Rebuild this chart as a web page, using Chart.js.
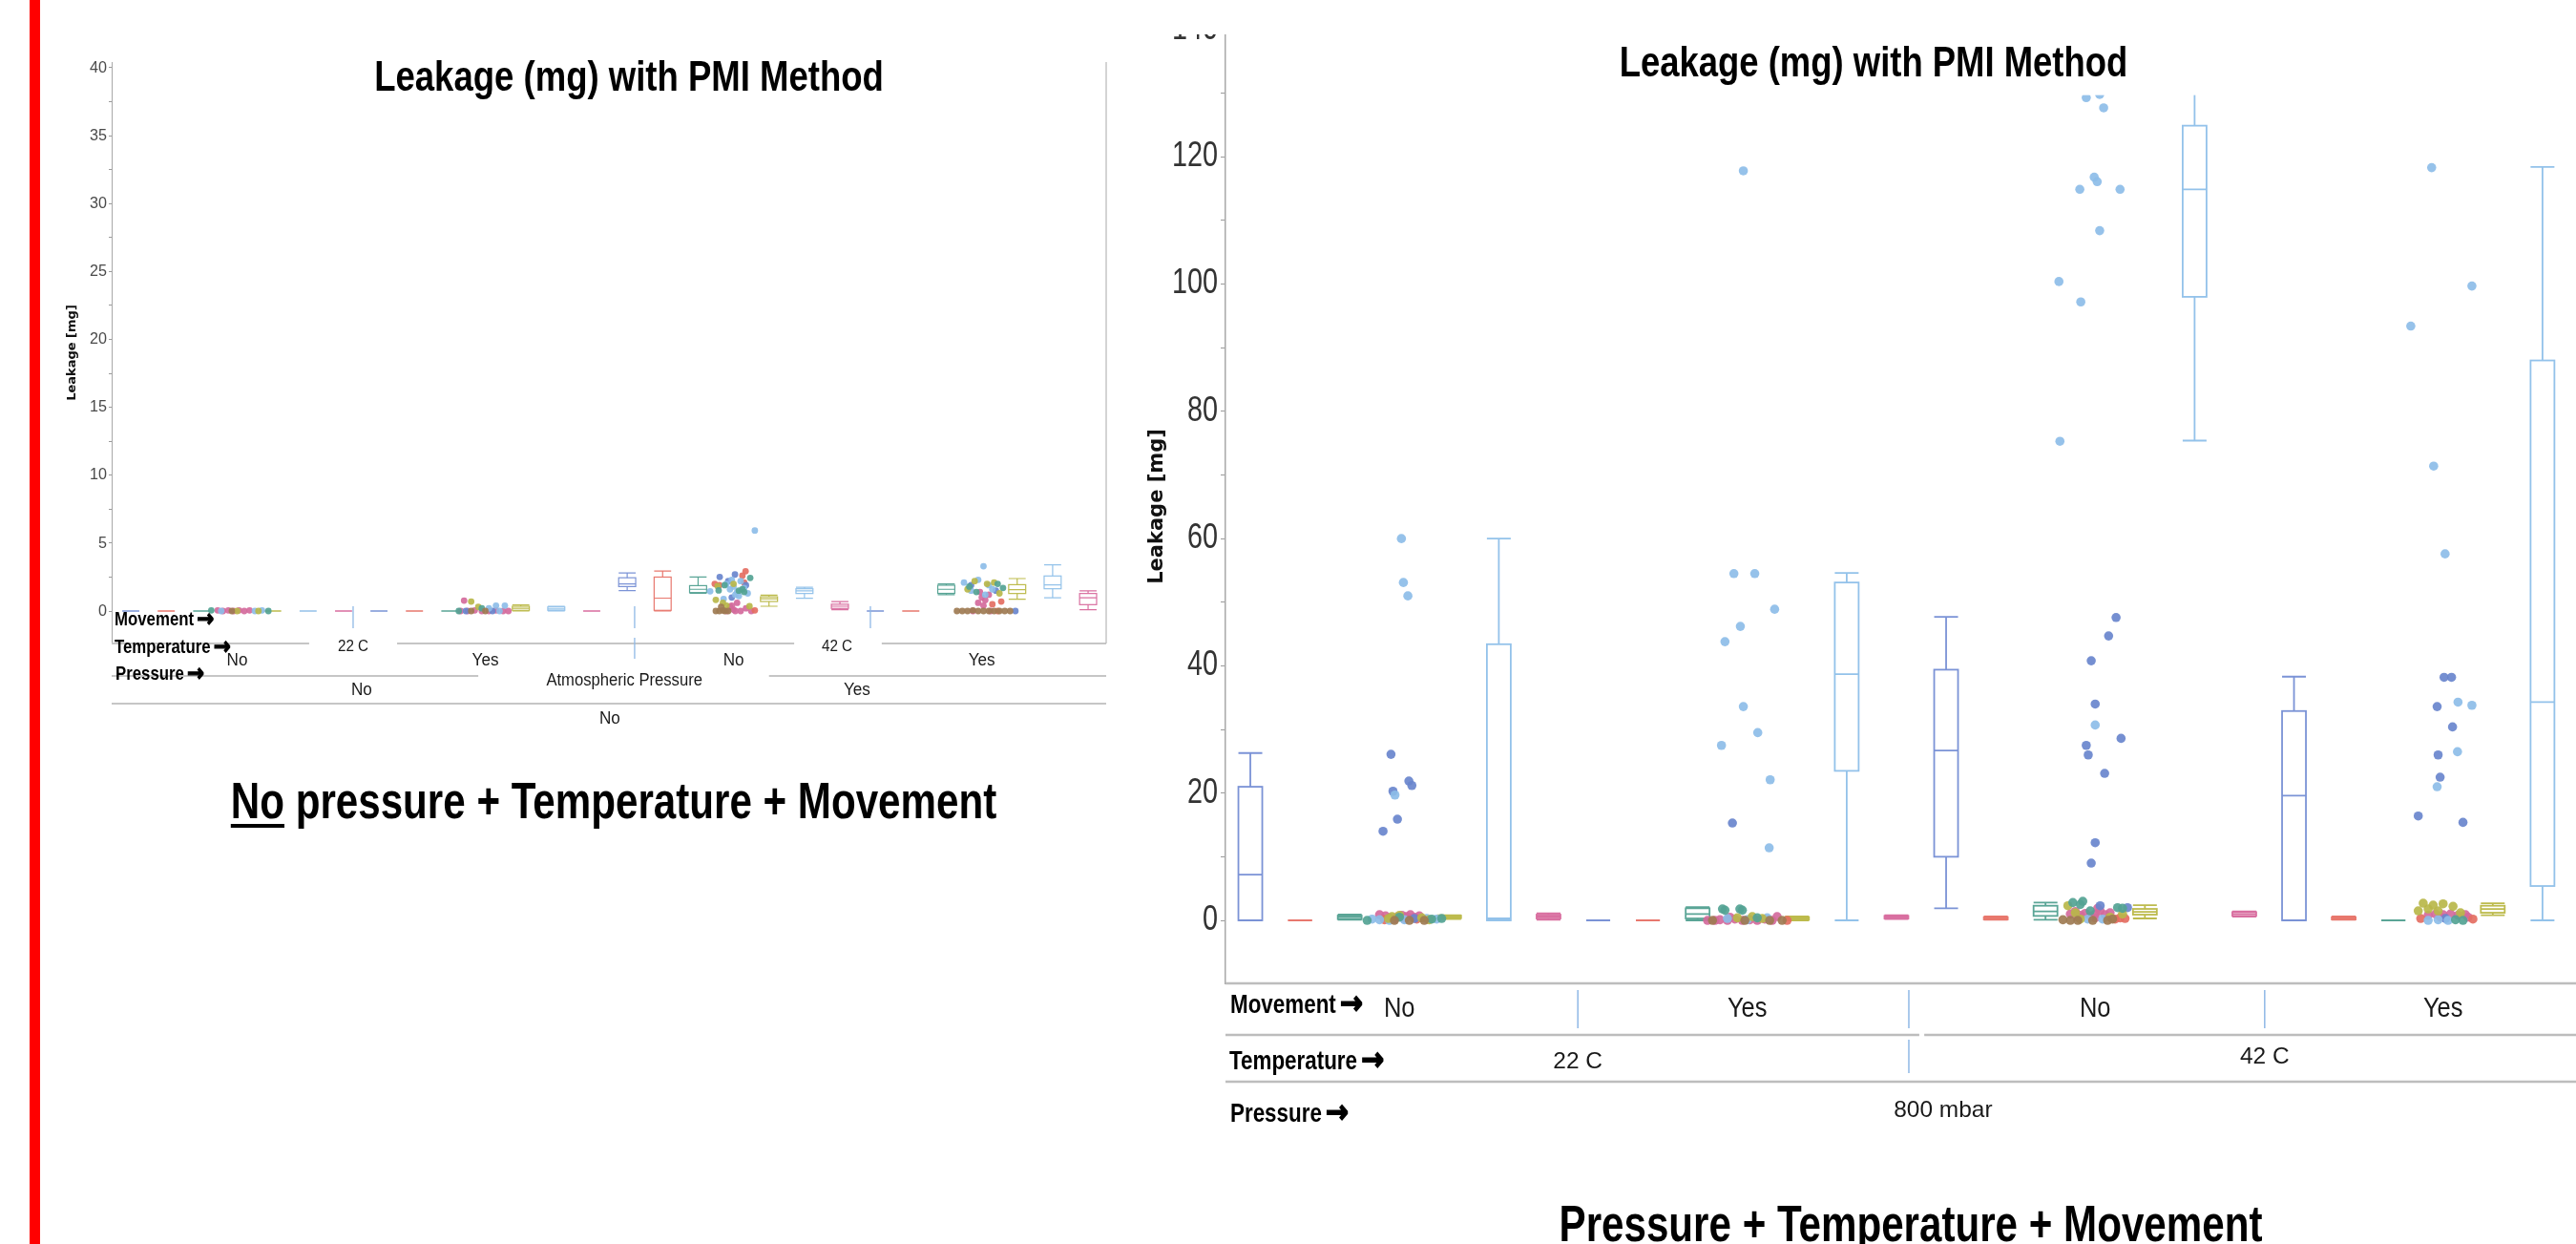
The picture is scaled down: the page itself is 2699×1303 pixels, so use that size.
<!DOCTYPE html>
<html><head><meta charset="utf-8">
<script src="https://cdn.jsdelivr.net/npm/chart.js@4.4.1/dist/chart.umd.min.js"></script>
<style>
html,body{margin:0;padding:0;width:2699px;height:1303px;overflow:hidden;background:#fff;}
body{position:relative;}
#redbar{position:absolute;left:31px;top:0;width:11px;height:1303px;background:#ff0000;}
#leftCanvas{position:absolute;left:50px;top:0;}
#rightClip{position:absolute;left:1150px;top:36px;width:1549px;height:1267px;overflow:hidden;}
#rightCanvas{position:absolute;left:0;top:-66px;}
.caption{position:absolute;font-family:'Liberation Sans',Arial,sans-serif;font-weight:bold;font-size:53px;line-height:53px;color:#000;text-align:center;white-space:nowrap;transform:scaleX(0.795);transform-origin:50% 50%;}
.caption u{text-decoration-thickness:4px;text-underline-offset:6px;}
</style></head>
<body>
<div id="redbar"></div>
<canvas id="leftCanvas" width="1160" height="780"></canvas>
<div id="rightClip"><canvas id="rightCanvas" width="1600" height="1333"></canvas></div>
<div class="caption" style="left:0;width:1286px;top:812px;"><u>No</u> pressure + Temperature + Movement</div>
<div class="caption" style="left:1302px;width:1400px;top:1255px;">Pressure + Temperature + Movement</div>
<script>
// ================= DATA =================
const chartTitle = 'Leakage (mg) with PMI Method';
const yTitle = 'Leakage [mg]';
const movementLevels = ['No', 'Yes', 'No', 'Yes'];
const temperatureLevels = ['22 C', '42 C'];
const leftPressureLevels = ['No', 'Yes'];
const leftPressureHeader = 'Atmospheric Pressure';
const leftOuterLevel = 'No';
const rightPressureLevel = '800 mbar';
const rowHeaders = ['Movement', 'Temperature', 'Pressure'];
const rowArrow = '\u2192';
// colour of each of the 7 slots inside a movement group
const slotColors = ['darkBlue', 'red', 'teal', 'brown', 'olive', 'lightBlue', 'pink'];

const leftYTicks = [0,2.5,5,7.5,10,12.5,15,17.5,20,22.5,25,27.5,30,32.5,35,37.5,40];
const leftYLabels = [0,5,10,15,20,25,30,35,40];
const rightYTicks = [0,10,20,30,40,50,60,70,80,90,100,110,120,130,140];
const rightYLabels = [0,20,40,60,80,100,120,140];

// box stats per slot: [low whisker, Q1, median, Q3, high whisker]
const leftBoxes = [
  [0,0,0,0,0],[0,0,0,0,0],[0,0,0,0,0],null,[0,0,0,0,0],[0,0,0,0,0],[0,0,0,0,0],
  [0,0,0,0,0],[0,0,0,0,0],[0,0,0,0,0],null,[0,0.05,0.2,0.35,0.45],[0,0.05,0.15,0.3,0.35],[0,0,0,0,0],
  [1.5,1.8,2.0,2.45,2.8],[0,0.05,0.95,2.5,2.95],[1.3,1.36,1.6,1.87,2.5],null,[0.35,0.7,0.9,1.05,1.17],[0.94,1.29,1.48,1.64,1.75],[0.1,0.19,0.35,0.5,0.7],
  [0,0,0,0,0],[0,0,0,0,0],[1.2,1.3,1.6,1.9,2.0],null,[0.87,1.29,1.57,1.94,2.39],[0.98,1.64,1.92,2.58,3.4],[0.1,0.47,0.98,1.29,1.48]
];
const rightBoxes = [
  [0,0,7.2,21,26.3],[0,0,0,0,0],[0.1,0.2,0.5,0.75,0.9],null,[0.2,0.35,0.5,0.75,0.8],[0,0,0.3,43.4,60],[0.1,0.3,0.6,0.9,1.1],
  [0,0,0,0,0],[0,0,0,0,0],[0,0.3,1.0,1.9,2.1],null,[0,0.1,0.3,0.5,0.6],[0,23.5,38.7,53.1,54.6],[0.2,0.3,0.5,0.7,0.8],
  [1.9,10,26.7,39.4,47.7],[0.1,0.15,0.3,0.5,0.6],[0.1,0.7,1.4,2.3,2.8],null,[0.3,0.9,1.35,1.8,2.4],[75.4,98,114.9,124.9,135],[0.6,0.7,1.0,1.3,1.4],
  [0,0,19.6,32.9,38.3],[0.1,0.15,0.3,0.5,0.6],[0,0,0,0,0],null,[0.8,1.2,1.8,2.3,2.7],[0,5.4,34.3,88,118.4],[0.2,0.4,0.6,0.9,1.1]
];

// jittered points [slot position, leakage]
const leftBrown = [[2.85,0],[9.6,0],[10.0,0],[16.5,0],[16.6,0],[16.7,0.05],[16.75,0],[16.85,0],[16.65,0.3],
  [23.3,0],[23.45,0],[23.6,0],[23.75,0.05],[23.9,0],[24.05,0],[24.2,0],[24.35,0],[24.5,0],[24.65,0],[24.8,0]];
const leftTeal = [[2.27,0.05],[3.88,0],[9.25,0],[9.9,0.2],[17.47,2.44],[16.58,1.52],[17.15,1.5],[17.3,1.4],[16.75,1.9],[17.25,1.6],
  [24.45,2.0],[23.65,1.8],[24.6,1.7],[23.85,1.4]];
const leftOlive = [[3.0,0],[3.6,0],[9.6,0.7],[9.8,0.3],[16.55,1.83],[16.5,0.82],[17.45,0.35],[17.0,2.0],[16.8,0.4],[16.7,0.6],
  [23.8,2.2],[24.15,2.0],[24.35,2.1],[23.6,1.6],[24.5,1.3]];
const leftLightBlue = [[2.55,0],[3.5,0],[3.7,0.05],[10.3,0.4],[10.55,0.4],[10.1,0.2],[10.4,0],
  [17.6,5.93],[16.34,1.45],[16.72,0.89],[16.8,2.0],[16.9,1.6],[17.0,1.8],[17.1,1.4],[17.2,2.2],[17.3,1.7],[17.4,1.3],[16.95,2.3],[17.15,1.1],[17.05,1.2],
  [24.05,3.3],[23.5,2.1],[24.3,1.6],[24.1,1.2],[23.9,2.3],[24.2,1.9],[23.7,1.5]];
const leftDarkBlue = [[9.45,0],[10.2,0],[16.61,2.51],[17.04,2.69],[16.85,2.2],[17.35,1.9],[16.95,1.0],[23.7,1.9],[24.4,1.5],[24.95,0]];
const leftRed = [[17.34,2.93],[16.47,2.0],[17.3,2.1],[16.6,1.9],[17.6,0.05],[17.25,2.6],[24.55,0.7],[24.3,0.5],[24.45,0]];
const leftPink = [[2.45,0.05],[2.6,0],[2.75,0.05],[2.9,0],[3.05,0.05],[3.2,0],[3.35,0.05],
  [9.4,0.77],[9.3,0],[9.5,0],[9.7,0.05],[9.9,0],[10.1,0],[10.3,0.05],[10.5,0],[10.65,0],
  [16.9,0.3],[17.0,0.1],[17.1,0.6],[17.2,0],[16.8,0],[17.05,0],[17.5,0],[17.35,0.2],[16.95,0.4],
  [23.95,1.4],[24.0,1.0],[24.1,0.8],[24.2,1.2],[23.9,0.6],[24.05,0.4],[24.25,0],[23.75,0]];

const rightBrown = [[2.9,0],[3.2,0],[3.5,0],[9.3,0],[9.95,0],[10.45,0],[10.7,0],
  [16.35,0.1],[16.5,0],[16.65,0],[16.95,0],[17.25,0],[17.35,0.2]];
const rightTeal = [[2.35,0],[3.0,0.5],[3.65,0.2],[3.85,0.3],[9.5,1.8],[9.55,1.6],[9.85,1.8],[9.9,1.6],[10.2,0.4],
  [16.55,2.8],[16.75,3.0],[16.7,2.5],[17.45,2.0],[17.55,1.9],[16.9,1.5],[24.25,0.1],[24.4,0]];
const rightOlive = [[2.78,0.3],[3.0,0.8],[3.45,0.4],[3.6,0.1],[2.85,0.6],[9.8,0.4],[10.1,0.6],[10.3,0.3],
  [16.45,2.3],[16.6,1.2],[17.55,1.0],[17.3,0.5],[16.7,0.2],
  [23.6,2.7],[23.8,2.4],[24.0,2.6],[24.2,2.2],[23.5,1.5],[23.9,1.5],[24.35,1.2],[23.7,1.8]];
const rightLightBlue = [[3.04,60],[3.08,53.1],[3.17,51.0],[2.91,19.7],[2.45,0.2],[2.6,0.1],[3.1,0.1],[3.55,0.3],[3.75,0.2],[2.8,0],
  [9.92,117.8],[9.73,54.5],[10.15,54.5],[10.55,48.9],[9.86,46.2],[9.55,43.8],[9.92,33.6],[9.48,27.5],[10.21,29.5],[10.46,22.1],[10.44,11.4],[9.6,0.3],[10.0,0.1],[10.4,0.4],
  [16.82,129.3],[17.09,129.8],[17.17,127.7],[16.69,114.9],[16.98,116.8],[17.04,116.1],[17.5,114.9],[17.09,108.4],[16.27,100.4],[16.71,97.2],[16.29,75.3],[17.0,30.7],[16.85,0.2],[17.15,0.2],
  [23.77,118.3],[24.58,99.7],[23.35,93.4],[23.81,71.4],[24.04,57.6],[24.3,34.3],[24.58,33.8],[24.29,26.5],[23.88,21.0],[23.7,0],[23.9,0.1],[24.1,0]];
const rightDarkBlue = [[2.67,14.0],[2.83,26.1],[2.87,20.3],[2.96,15.9],[3.19,21.9],[3.25,21.2],[3.3,0.3],
  [9.7,15.3],
  [17.42,47.6],[17.27,44.7],[16.92,40.8],[17.0,34.0],[16.82,27.5],[16.86,26.0],[17.52,28.6],[17.19,23.1],[17.0,12.2],[16.92,9.0],[17.1,2.3],[17.65,2.0],
  [24.02,38.2],[24.17,38.2],[23.88,33.6],[24.19,30.4],[23.9,26.0],[23.94,22.5],[23.5,16.4],[24.4,15.4],[24.05,0.3]];
const rightRed = [[2.7,0.1],[3.35,0.2],[10.8,0],[17.4,0.2],[17.5,0.4],[17.6,0.3],[24.6,0.2],[23.55,0.3]];
const rightPink = [[2.6,0.9],[2.72,0.7],[2.8,0.4],[2.95,0.5],[3.05,0.8],[3.15,0.6],[3.22,0.9],[3.3,0.5],[3.4,0.7],[2.9,0.2],[3.1,0.3],
  [9.2,0],[9.35,0],[9.45,0.1],[9.6,0],[9.75,0.2],[9.9,0],[10.05,0.1],[10.2,0],[10.35,0.2],[10.5,0],[10.6,0.6],[9.65,0.5],
  [16.5,1.0],[16.6,1.4],[16.7,0.8],[16.8,1.1],[16.9,0.7],[17.0,1.0],[17.05,1.9],[17.1,1.5],[17.2,0.9],[17.3,1.2],[16.65,0.5],[17.0,0.4],
  [23.7,0.8],[23.85,1.0],[24.0,0.9],[24.15,1.0],[24.3,0.8],[24.45,0.9],[23.95,0.5],[24.5,0.5]];

// ================= STYLE / LAYOUT =================
const SANS = "'Liberation Sans', Arial, sans-serif";
const COLORS = {
  darkBlue:  {stroke:'#7b93d6', fill:'rgba(105,133,205,0.92)'},
  red:       {stroke:'#e8786e', fill:'rgba(228,110,98,0.92)'},
  teal:      {stroke:'#5aa596', fill:'rgba(84,163,148,0.92)'},
  brown:     {stroke:'#a07a50', fill:'rgba(158,123,82,0.92)'},
  olive:     {stroke:'#bdbb4d', fill:'rgba(184,183,74,0.92)'},
  lightBlue: {stroke:'#93c2ea', fill:'rgba(141,189,232,0.92)'},
  pink:      {stroke:'#d96fa0', fill:'rgba(212,106,156,0.92)'}
};
const groupCenters = [3, 10, 17, 24];

// condensed text: regular font squeezed horizontally; returns drawn width
function drawText(ctx, text, x, y, f) {
  ctx.save();
  ctx.font = (f.bold ? 'bold ' : '') + f.size + 'px ' + (f.family || SANS);
  ctx.fillStyle = f.color || '#000';
  ctx.textAlign = f.align || 'center';
  ctx.textBaseline = f.baseline || 'middle';
  const w = ctx.measureText(text).width * (f.sx || 1);
  ctx.translate(x, y); ctx.scale(f.sx || 1, 1);
  if (f.stroke) { ctx.strokeStyle = f.color || '#000'; ctx.lineWidth = f.stroke; ctx.strokeText(text, 0, 0); }
  ctx.fillText(text, 0, 0);
  ctx.restore();
  return w;
}

const boxPlugin = {
  id: 'boxes',
  beforeDatasetsDraw(chart) {
    const o = chart.options.plugins.boxes;
    const {ctx, chartArea: a} = chart;
    const xs = chart.scales.x, ys = chart.scales.y;
    ctx.save();
    ctx.beginPath(); ctx.rect(a.left, a.top, a.right - a.left, a.bottom - a.top); ctx.clip();
    ctx.lineWidth = o.lineWidth;
    o.stats.forEach((s, i) => {
      if (!s) return;
      ctx.strokeStyle = COLORS[slotColors[i % 7]].stroke;
      const cx = xs.getPixelForValue(i);
      const x0 = xs.getPixelForValue(i - o.width / 2), x1 = xs.getPixelForValue(i + o.width / 2);
      const [lo, q1, md, q3, hi] = s.map(v => ys.getPixelForValue(v));
      ctx.beginPath();
      ctx.moveTo(cx, lo); ctx.lineTo(cx, q1);
      ctx.moveTo(cx, q3); ctx.lineTo(cx, hi);
      ctx.moveTo(x0, lo); ctx.lineTo(x1, lo);
      ctx.moveTo(x0, hi); ctx.lineTo(x1, hi);
      ctx.moveTo(x0, md); ctx.lineTo(x1, md);
      ctx.stroke();
      ctx.strokeRect(x0, q3, x1 - x0, q1 - q3);
    });
    ctx.restore();
  },
  afterDatasetsDraw(chart) {
    const d = chart.options.plugins.deco;
    if (d.maskAbove === undefined) return;
    const {ctx, chartArea: a} = chart;
    const yb = chart.scales.y.getPixelForValue(d.maskAbove);
    ctx.save(); ctx.fillStyle = '#ffffff';
    ctx.fillRect(a.left + 1.5, 0, a.right - a.left, yb);
    ctx.restore();
  }
};

const decoPlugin = {
  id: 'deco',
  afterDraw(chart) {
    const d = chart.options.plugins.deco;
    const {ctx, chartArea: a} = chart;
    const xs = chart.scales.x, ys = chart.scales.y;
    const sx = v => xs.getPixelForValue(v);
    ctx.save();
    // y tick labels (condensed)
    d.yLabels.forEach(v => drawText(ctx, String(v), a.left - d.tick.gap, ys.getPixelForValue(v),
      {size: d.tick.size, sx: d.tick.sx, align: 'right', color: d.tick.color}));
    // grey rule lines
    ctx.strokeStyle = d.ruleColor; ctx.lineWidth = d.ruleWidth;
    d.hlines.forEach(h => {
      const xa = h.from === null ? a.left : sx(h.from);
      const xb = h.to === null ? a.right : sx(h.to);
      ctx.beginPath(); ctx.moveTo(xa, h.y - d.oy); ctx.lineTo(xb, h.y - d.oy); ctx.stroke();
    });
    if (d.rightBorder) {
      ctx.lineWidth = 1.2; ctx.strokeStyle = '#b8b8b8';
      ctx.beginPath(); ctx.moveTo(a.right, a.top); ctx.lineTo(a.right, a.bottom); ctx.stroke();
    }
    // blue separators
    ctx.strokeStyle = '#8fb8e6'; ctx.lineWidth = d.sepWidth;
    d.vlines.forEach(v => {
      const x = sx(v.x);
      ctx.beginPath(); ctx.moveTo(x, v.y1 - d.oy); ctx.lineTo(x, v.y2 - d.oy); ctx.stroke();
    });
    // row headers with arrow
    d.headers.forEach(h => {
      const f = {size: h.size, sx: h.sx, bold: true, align: 'left', color: '#000'};
      const w = drawText(ctx, h.t, h.px - d.ox, h.y - d.oy, f);
      drawText(ctx, rowArrow, h.px - d.ox + w + h.size * 0.15, h.y - d.oy + h.size * 0.02,
        {size: h.size * 1.2, sx: 0.85, bold: true, align: 'left', color: '#000', stroke: h.size * 0.06,
         family: "'DejaVu Sans', sans-serif"});
    });
    // axis value labels
    d.texts.forEach(t => drawText(ctx, t.t, sx(t.slot), t.y - d.oy, {size: t.size, sx: t.sx, color: '#1a1a1a'}));
    // chart title
    drawText(ctx, chartTitle, d.title.x - d.ox, d.title.y - d.oy,
      {size: d.title.size, sx: d.title.sx, bold: true, baseline: 'alphabetic'});
    ctx.restore();
  }
};

function pointSets(list) {
  return list.map(([color, arr]) => ({color, data: arr}));
}

function buildChart(id, spec) {
  const datasets = spec.points.map(p => ({
    type: 'scatter',
    data: p.data.map(q => ({x: q[0], y: q[1]})),
    backgroundColor: COLORS[p.color].fill,
    borderWidth: 0,
    pointRadius: spec.pointRadius,
    pointHoverRadius: spec.pointRadius
  }));
  return new Chart(document.getElementById(id), {
    type: 'scatter',
    data: {datasets},
    options: {
      responsive: false, animation: false, devicePixelRatio: 1, events: [],
      layout: {padding: spec.padding},
      plugins: {
        legend: {display: false}, tooltip: {enabled: false}, title: {display: false},
        boxes: {stats: spec.boxes, width: 0.48, lineWidth: spec.boxLine},
        deco: Object.assign({yLabels: spec.yLabels}, spec.deco)
      },
      scales: {
        x: {type: 'linear', min: spec.xMin, max: spec.xMax, display: false},
        y: {
          type: 'linear', position: 'left', min: spec.yMin, max: spec.yMax,
          afterFit: s => { s.width = spec.axisWidth; },
          afterBuildTicks: s => { s.ticks = spec.yTicks.map(v => ({value: v})); },
          ticks: {display: false, autoSkip: false},
          grid: {display: true, drawOnChartArea: false, drawTicks: true, tickLength: spec.tickLen, color: '#9a9a9a', lineWidth: 1},
          border: {display: true, color: '#a8a8a8', width: spec.axisLineWidth},
          title: {display: true, text: yTitle, color: '#111',
            font: {family: 'DejaVu Sans', weight: 'bold', size: spec.yTitleSize},
            padding: {top: spec.yTitlePad, bottom: 0}}
        }
      }
    },
    plugins: [boxPlugin, decoPlugin]
  });
}

// ---------- left chart (no pressure) ----------
buildChart('leftCanvas', {
  xMin: -0.54, xMax: 27.51, yMin: -2.39, yMax: 40.42,
  yTicks: leftYTicks, yLabels: leftYLabels,
  padding: {left: 0, top: 65, right: 51, bottom: 106},
  axisWidth: 67, tickLen: 3, axisLineWidth: 1,
  yTitleSize: 13, yTitlePad: 18,
  pointRadius: 3.4, boxLine: 1.2, boxes: leftBoxes,
  points: pointSets([['brown', leftBrown], ['teal', leftTeal], ['olive', leftOlive], ['lightBlue', leftLightBlue],
                     ['darkBlue', leftDarkBlue], ['red', leftRed], ['pink', leftPink]]),
  deco: {
    ox: 50, oy: 0, rightBorder: true, ruleColor: '#c6c6c6', ruleWidth: 2, sepWidth: 1.3,
    tick: {size: 17, sx: 0.95, gap: 5, color: '#4a4a4a'},
    title: {x: 659, y: 95, size: 44, sx: 0.83},
    hlines: [
      {y: 674, from: null, to: 5.03}, {y: 674, from: 7.51, to: 18.71}, {y: 674, from: 21.18, to: null},
      {y: 708, from: null, to: 9.8}, {y: 708, from: 18.0, to: null},
      {y: 737, from: null, to: null}
    ],
    vlines: [{x: 6.27, y1: 635, y2: 658}, {x: 14.21, y1: 635, y2: 658}, {x: 14.21, y1: 668, y2: 690}, {x: 20.86, y1: 635, y2: 658}],
    headers: [
      {t: rowHeaders[0], px: 120, y: 649, size: 21, sx: 0.8},
      {t: rowHeaders[1], px: 120, y: 678, size: 21, sx: 0.8},
      {t: rowHeaders[2], px: 121, y: 706, size: 21, sx: 0.8}
    ],
    texts: [
      {t: temperatureLevels[0], slot: 6.27, y: 678, size: 16, sx: 0.95},
      {t: temperatureLevels[1], slot: 19.92, y: 678, size: 16, sx: 0.95},
      ...movementLevels.map((m, i) => ({t: m, slot: groupCenters[i], y: 692, size: 18, sx: 0.95})),
      {t: leftPressureHeader, slot: 13.92, y: 713, size: 17.5, sx: 0.95},
      {t: leftPressureLevels[0], slot: 6.51, y: 723, size: 18, sx: 0.95},
      {t: leftPressureLevels[1], slot: 20.48, y: 723, size: 18, sx: 0.95},
      {t: leftOuterLevel, slot: 13.51, y: 753, size: 18, sx: 0.95}
    ]
  }
});

// ---------- right chart (800 mbar) ----------
buildChart('rightCanvas', {
  xMin: -0.5, xMax: 27.5, yMin: -9.9, yMax: 140,
  yTicks: rightYTicks, yLabels: rightYLabels,
  padding: {left: 0, top: 61, right: 8, bottom: 273},
  axisWidth: 134, tickLen: 5, axisLineWidth: 1.5,
  yTitleSize: 21, yTitlePad: 50,
  pointRadius: 4.8, boxLine: 1.8, boxes: rightBoxes,
  points: pointSets([['brown', rightBrown], ['teal', rightTeal], ['olive', rightOlive], ['lightBlue', rightLightBlue],
                     ['darkBlue', rightDarkBlue], ['red', rightRed], ['pink', rightPink]]),
  deco: {
    ox: 1150, oy: -30, rightBorder: false, ruleColor: '#bdbdbd', ruleWidth: 2.5, sepWidth: 1.5,
    tick: {size: 36, sx: 0.8, gap: 8, color: '#333'},
    maskAbove: 129.7,
    title: {x: 1963, y: 80, size: 45, sx: 0.81},
    hlines: [
      {y: 1030, from: null, to: null},
      {y: 1084, from: null, to: 13.46}, {y: 1084, from: 13.56, to: null},
      {y: 1133, from: null, to: null}
    ],
    vlines: [{x: 6.59, y1: 1037, y2: 1077}, {x: 13.25, y1: 1037, y2: 1077}, {x: 20.41, y1: 1037, y2: 1077}, {x: 13.25, y1: 1089, y2: 1124}],
    headers: [
      {t: rowHeaders[0], px: 1289, y: 1053, size: 28, sx: 0.8},
      {t: rowHeaders[1], px: 1288, y: 1112, size: 28, sx: 0.8},
      {t: rowHeaders[2], px: 1289, y: 1167, size: 28, sx: 0.8}
    ],
    texts: [
      ...movementLevels.map((m, i) => ({t: m, slot: groupCenters[i], y: 1057, size: 30, sx: 0.85})),
      {t: temperatureLevels[0], slot: 6.59, y: 1112, size: 24, sx: 1.02},
      {t: temperatureLevels[1], slot: 20.41, y: 1107, size: 24, sx: 1.02},
      {t: rightPressureLevel, slot: 13.94, y: 1163, size: 24, sx: 1.02}
    ]
  }
});
</script>
</body></html>
